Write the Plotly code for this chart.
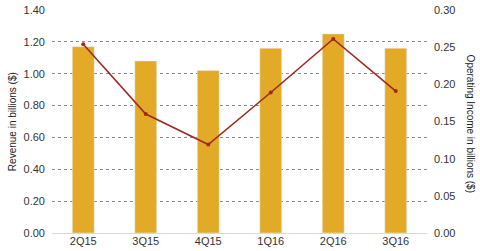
import plotly.graph_objects as go

quarters = ["2Q15", "3Q15", "4Q15", "1Q16", "2Q16", "3Q16"]
revenue = [1.17, 1.08, 1.02, 1.16, 1.25, 1.16]
operating_income = [0.254, 0.160, 0.119, 0.189, 0.261, 0.191]
left_ticks = [0.0, 0.2, 0.4, 0.6, 0.8, 1.0, 1.2, 1.4]
left_labels = ["0.00", "0.20", "0.40", "0.60", "0.80", "1.00", "1.20", "1.40"]
right_ticks = [0.0, 0.05, 0.10, 0.15, 0.20, 0.25, 0.30]
right_labels = ["0.00", "0.05", "0.10", "0.15", "0.20", "0.25", "0.30"]

fig = go.Figure()
fig.add_trace(go.Bar(x=quarters, y=revenue, marker_color="#E2AA27", yaxis="y", name="Revenue"))
fig.add_trace(go.Scatter(x=quarters, y=operating_income, yaxis="y2", mode="lines+markers",
                         line=dict(color="#A02A20", width=1.6), marker=dict(size=4, color="#A02A20"),
                         name="Operating Income"))

font = dict(family="Arial, Liberation Sans, sans-serif", size=11, color="#333")
fig.update_layout(
    width=480, height=251,
    margin=dict(l=52, r=53, t=4, b=18),
    paper_bgcolor="white", plot_bgcolor="white",
    showlegend=False,
    bargap=0.65,
    font=font,
    xaxis=dict(showgrid=False, ticks="", tickfont=font, showline=False, zeroline=False),
    yaxis=dict(range=[0, 1.4001], tickmode="array", tickvals=left_ticks, ticktext=left_labels,
               showgrid=True, gridcolor="#8a8a8a", griddash="dot", gridwidth=1,
               zeroline=True, zerolinecolor="#d9d9d9", zerolinewidth=1,
               ticks="", tickfont=font, ticklabelstandoff=6, ticklabeloverflow="allow"),
    yaxis2=dict(range=[0, 0.30001], tickmode="array", tickvals=right_ticks, ticktext=right_labels,
                overlaying="y", side="right",
                showgrid=False, zeroline=False, ticks="", tickfont=font, ticklabelstandoff=6,
                ticklabeloverflow="allow"),
    annotations=[
        dict(text="Revenue in billions ($)", xref="paper", yref="paper", x=-0.105, y=0.5,
             textangle=-90, showarrow=False, font=dict(family="Arial, Liberation Sans, sans-serif", size=10, color="#222"),
             xanchor="center", yanchor="middle"),
        dict(text="Operating Income in billions ($)", xref="paper", yref="paper", x=1.115, y=0.49,
             textangle=90, showarrow=False, font=dict(family="Arial, Liberation Sans, sans-serif", size=10, color="#222"),
             xanchor="center", yanchor="middle"),
    ],
)
fig.write_html("out.html")
